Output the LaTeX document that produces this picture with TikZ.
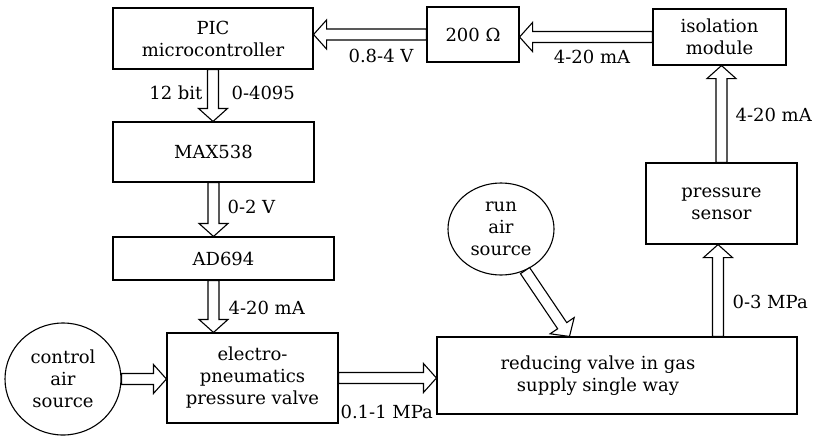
\documentclass[tikz,border=0pt]{standalone}
\usepackage{fontspec}
\setmainfont{DejaVu Serif}
\usetikzlibrary{calc,shapes.geometric}
\newcommand{\blockarr}[2]{%
  \coordinate (ba-s) at #1;
  \coordinate (ba-e) at #2;
  \coordinate (ba-h) at ($(ba-e)!13pt!(ba-s)$);
  \draw[barrow] ($(ba-s)!5.5pt!90:(ba-e)$) -- ($(ba-h)!5.5pt!-90:(ba-s)$) --
    ($(ba-h)!14.5pt!-90:(ba-s)$) -- (ba-e) -- ($(ba-h)!14.5pt!90:(ba-s)$) --
    ($(ba-h)!5.5pt!90:(ba-s)$) -- ($(ba-s)!5.5pt!-90:(ba-e)$) -- cycle;}
\begin{document}
\begin{tikzpicture}[x=1pt,y=-1pt,line width=1.1pt,
  font=\fontsize{18}{22}\selectfont,
  box/.style={draw, fill=white, inner sep=0pt, align=center},
  src/.style={draw, fill=white, ellipse, inner sep=0pt, align=center},
  lbl/.style={inner sep=0pt},
  barrow/.style={draw, fill=white, line width=1.1pt, line join=miter}]
\useasboundingbox[fill=white] (0,0) rectangle (813,437);
% boxes
\node[box, minimum width=200pt, minimum height=61pt] (pic) at (213,38.5) {PIC\\microcontroller};
\node[box, minimum width=201pt, minimum height=60pt] (max) at (213.5,152) {MAX538};
\node[box, minimum width=221pt, minimum height=43pt] (ad) at (223.5,258.5) {AD694};
\node[box, minimum width=171pt, minimum height=90pt] (el) at (252.5,378) {electro-\\pneumatics\\pressure valve};
\node[box, minimum width=360pt, minimum height=77pt] (red) at (617,375.5) {};
\node[lbl, align=center] (redtxt) at ($(red.center)+(-19,0)$) {reducing valve in gas\\supply single way};
\node[box, minimum width=151pt, minimum height=81pt] (ps) at (721.5,203.5) {pressure\\sensor};
\node[box, minimum width=133pt, minimum height=56pt] (iso) at (719.5,37) {isolation\\module};
\node[box, minimum width=92pt, minimum height=55pt] (ohm) at (473,34.5) {200 Ω};
\node[src, minimum width=116pt, minimum height=112pt] (ctrl) at (63,379) {control\\air\\source};
\node[src, minimum width=106pt, minimum height=92pt] (run) at (501,229) {run\\air\\source};
% connectors
\blockarr{(pic.south)}{(pic.south |- max.north)}
\blockarr{(max.south)}{(max.south |- ad.north)}
\blockarr{(max.south |- ad.south)}{(max.south |- el.north)}
\blockarr{(ctrl.east)}{(ctrl.east -| el.west)}
\blockarr{(el.east)}{(el.east -| red.west)}
\coordinate (rtip) at ($(red.north west)+(133,0)$);
\blockarr{(run.-60)}{(rtip)}
\coordinate (rbase) at ($(ps.south |- red.north)+(-3.5,0)$);
\blockarr{(rbase)}{(rbase |- ps.south)}
\blockarr{(ps.north)}{(ps.north |- iso.south)}
\blockarr{(iso.west)}{(iso.west -| ohm.east)}
\blockarr{(ohm.west)}{(ohm.west -| pic.east)}
% labels
\node[lbl, anchor=east] (l12) at (203,93) {12 bit};
\node[lbl, anchor=west] (l4095) at (231,93) {0-4095};
\node[lbl, anchor=west] (l02) at (227,207) {0-2 V};
\node[lbl, anchor=west] (l420a) at (228,308) {4-20 mA};
\node[lbl, anchor=west] (l01) at (340,412) {0.1-1 MPa};
\node[lbl, anchor=west] (l03) at (732,302) {0-3 MPa};
\node[lbl, anchor=west] (l420b) at (735,115) {4-20 mA};
\node[lbl] (l420c) at (592,57) {4-20 mA};
\node[lbl] (l084) at (381,56) {0.8-4 V};
\end{tikzpicture}
\end{document}
